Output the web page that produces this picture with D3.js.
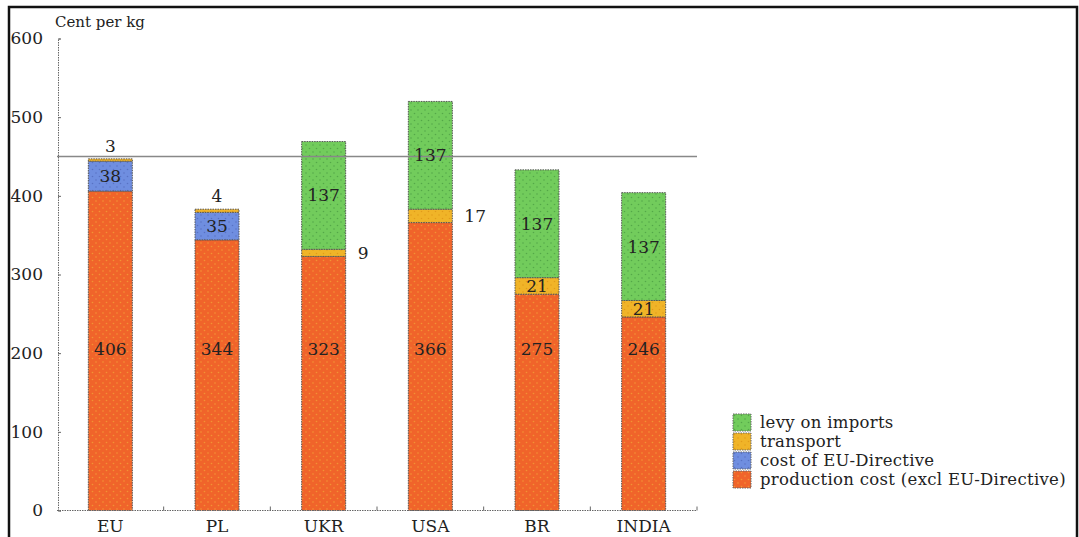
<!DOCTYPE html>
<html><head><meta charset="utf-8">
<script src="https://cdn.jsdelivr.net/npm/d3@7"></script>
<style>body{margin:0;background:#fff;}svg{display:block;}</style>
</head><body><svg id="c" width="1079" height="537" font-family="DejaVu Serif, Liberation Serif, serif"></svg>
<script>
const categories = ["EU","PL","UKR","USA","BR","INDIA"];
const production = [406,344,323,366,275,246];
const directive = [38,35,0,0,0,0];
const transport = [3,4,9,17,21,21];
const levy = [0,0,137,137,137,137];
const seriesNames = ["production cost (excl EU-Directive)","cost of EU-Directive","transport","levy on imports"];
const seriesColors = ["#f0642a","#6f8ee0","#f0b428","#72cc5c"];
const dotColors = ["#f2b23a","#4a5fb0","#d98a10","#3f8f3a"];
const yTicks = [0,100,200,300,400,500,600];
const refLine = 450;
const FONT = "DejaVu Serif, Liberation Serif, serif";

const svg = d3.select("#c");
const x = d3.scaleBand().domain(categories).range([57,697]).paddingInner(0).paddingOuter(0);
const y = d3.scaleLinear().domain([0,600]).range([510.5,38.5]);
const barW = 44;

const defs = svg.append("defs");
seriesColors.forEach((c,i)=>{
  const p = defs.append("pattern").attr("id","pat"+i).attr("patternUnits","userSpaceOnUse")
    .attr("width",7).attr("height",7);
  p.append("rect").attr("width",7).attr("height",7).attr("fill",c);
  p.append("circle").attr("cx",1.5).attr("cy",1.5).attr("r",0.8).attr("fill",dotColors[i]).attr("opacity",0.6);
  p.append("circle").attr("cx",5).attr("cy",5).attr("r",0.8).attr("fill",dotColors[i]).attr("opacity",0.6);
});

// frame
svg.append("rect").attr("x",9).attr("y",7).attr("width",1068).attr("height",560)
  .attr("fill","none").attr("stroke","#111").attr("stroke-width",2.5);

const rows = categories.map((c,i)=>({cat:c, production:production[i], directive:directive[i], transport:transport[i], levy:levy[i]}));
const keys = ["production","directive","transport","levy"];
const stacked = d3.stack().keys(keys)(rows);

stacked.forEach((layer,li)=>{
  svg.append("g").selectAll("rect").data(layer.filter(d=>d[1]-d[0]>0)).join("rect")
    .attr("x",d=>x(d.data.cat)+x.bandwidth()/2-barW/2)
    .attr("width",barW)
    .attr("y",d=>y(d[1]))
    .attr("height",d=>y(d[0])-y(d[1]))
    .attr("fill","url(#pat"+li+")")
    .attr("stroke","#555").attr("stroke-width",1).attr("stroke-dasharray","1.5,1");
});

// reference line
svg.append("line").attr("x1",57).attr("x2",697).attr("y1",y(refLine)).attr("y2",y(refLine))
  .attr("stroke","#888").attr("stroke-width",1.5);

// axes
const yAxis = d3.axisLeft(y).tickValues(yTicks).tickSize(-3).tickPadding(15).tickFormat(d3.format("d"));
const gy = svg.append("g").attr("transform","translate(58,0)").call(yAxis);
gy.attr("font-family",FONT).attr("font-size",17);
gy.select(".domain").attr("stroke","#666").attr("stroke-dasharray","1.5,1");
gy.selectAll(".tick line").attr("stroke","#666");
gy.selectAll("text").attr("fill","#222");

svg.append("line").attr("x1",57).attr("x2",697).attr("y1",y(0)).attr("y2",y(0))
  .attr("stroke","#666").attr("stroke-width",1).attr("stroke-dasharray","1.5,1");
const bounds = categories.map(c=>x(c)+x.bandwidth());
svg.append("g").selectAll("line").data(bounds).join("line")
  .attr("x1",d=>d).attr("x2",d=>d).attr("y1",y(0)).attr("y2",y(0)-4).attr("stroke","#666");
svg.append("g").selectAll("text").data(categories).join("text")
  .attr("x",d=>x(d)+x.bandwidth()/2).attr("y",532).attr("text-anchor","middle")
  .attr("font-size",17).attr("fill","#222").text(d=>d);

svg.append("text").attr("x",55).attr("y",27).attr("font-size",15).attr("fill","#222").text("Cent per kg");

// value labels
const prodLabelLevel = 205;
stacked.forEach((layer,li)=>{
  layer.forEach(d=>{
    const v = d[1]-d[0];
    if(v<=0) return;
    const cx = x(d.data.cat)+x.bandwidth()/2;
    let tx=cx, ty=(y(d[0])+y(d[1]))/2+6, anchor="middle";
    if(keys[li]==="production") ty = y(prodLabelLevel)+6;
    if(v<10){ ty = y(d[1])-7; }
    if(keys[li]==="transport" && v<20 && d.data.levy>0){ tx = cx+barW/2+12; anchor="start"; ty=(y(d[0])+y(d[1]))/2+6; }
    svg.append("text").attr("x",tx).attr("y",ty).attr("text-anchor",anchor).attr("font-size",17).attr("fill","#222").text(v);
  });
});

// legend
const legendOrder = [3,2,1,0];
const lg = svg.append("g").attr("transform","translate(733,414)");
legendOrder.forEach((si,k)=>{
  const g = lg.append("g").attr("transform",`translate(0,${k*19})`);
  g.append("rect").attr("width",18).attr("height",17).attr("fill","url(#pat"+si+")")
    .attr("stroke","#666").attr("stroke-dasharray","1.5,1");
  g.append("text").attr("x",27).attr("y",14).attr("font-size",16.5).attr("letter-spacing",0.3).attr("fill","#222").text(seriesNames[si]);
});
</script></body></html>
